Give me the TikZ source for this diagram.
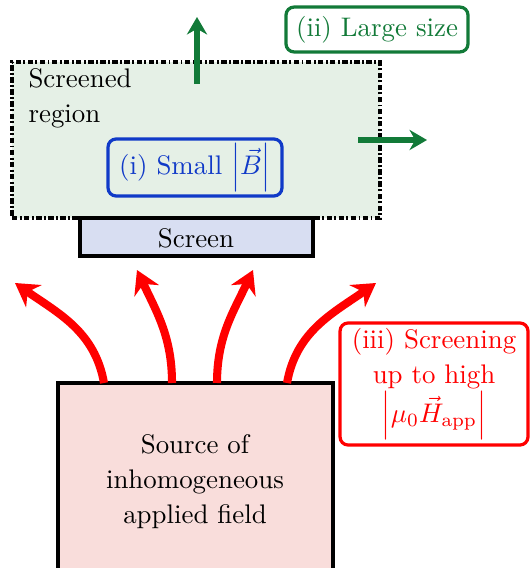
\documentclass[tikz,border=0pt]{standalone}
\usetikzlibrary{arrows.meta,fit}

\definecolor{fieldred}{RGB}{255,0,0}
\definecolor{sizegreen}{RGB}{18,122,56}
\definecolor{smallblue}{RGB}{16,58,200}
\definecolor{regionfill}{RGB}{229,240,230}
\definecolor{screenfill}{RGB}{216,222,242}
\definecolor{sourcefill}{RGB}{249,221,219}

\begin{document}
\begin{tikzpicture}[
x=0.372pt, y=-0.372pt,
every node/.style={font=\fontsize{10}{13}\selectfont},
region/.style={draw, line width=1.5pt, fill=regionfill, inner sep=0pt,
    dash pattern=on 2pt off 0.9pt on 0.7pt off 0.9pt},
plate/.style={draw, line width=1.4pt, inner sep=0pt},
tag/.style={draw, rounded corners=3pt, line width=1.2pt, align=center, inner sep=0pt},
fieldline/.style={fieldred, line width=3pt, -{Stealth[length=8.5pt,width=10pt]}},
growarrow/.style={sizegreen, line width=2.2pt, -{Stealth[length=6.5pt,width=7.5pt]}}
]
\useasboundingbox (0,0) rectangle (529,568);

% screened volume and the screen under it
\node[region, fit={(12,62) (380,218)}] (region) {};
\node[anchor=north west, align=left, inner sep=0pt] (regiontext) at (28,68) {Screened\\region};
\node[plate, fill=screenfill, fit={(80,218) (313,256)}] (screen) {};
\node (screentext) at (196,238) {Screen};

% field source
\node[plate, fill=sourcefill, fit={(58,383) (333,585)}] (source) {};
\node[align=center] (sourcetext) at (195,482) {Source of\\inhomogeneous\\applied field};

% labels
\node[tag, smallblue, minimum width=64.7pt, minimum height=21.2pt] (small) at (195,167.5)
    {(i) Small $\left|\vec{B}\right|$};
\node[tag, sizegreen, minimum width=67.7pt, minimum height=16.7pt] (large) at (377,29.5)
    {(ii) Large size};
\node[tag, fieldred, minimum width=69.9pt, minimum height=45.4pt] (high) at (434,384)
    {(iii) Screening\\up to high\\$\left|\mu_0\vec{H}_\mathrm{app}\right|$};

% growing the region
\coordinate (up0) at (197,84);
\coordinate (up1) at (197,17);
\coordinate (right0) at (358,140);
\coordinate (right1) at (427,140);
\draw[growarrow] (up0) -- (up1);
\draw[growarrow] (right0) -- (right1);

% applied field lines
\coordinate (s1) at (104,383);
\coordinate (s2) at (172,383);
\coordinate (s3) at (217,383);
\coordinate (s4) at (287,383);
\coordinate (f1) at (15,283);
\coordinate (f2) at (137,270);
\coordinate (f3) at (253,270);
\coordinate (f4) at (376,283);
\draw[fieldline] (s1) to[out=100, in=-35] (f1);
\draw[fieldline] (s2) to[out=90, in=-65] (f2);
\draw[fieldline] (s3) to[out=90, in=-115] (f3);
\draw[fieldline] (s4) to[out=80, in=-145] (f4);
\end{tikzpicture}
\end{document}
